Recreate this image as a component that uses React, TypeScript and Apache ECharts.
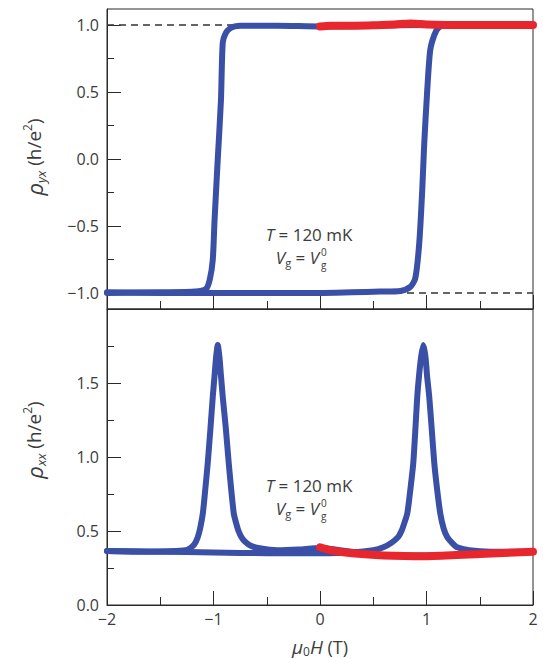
import React, { useEffect, useRef } from "react";
import * as echarts from "echarts";

// ---------- data ----------
// Top panel: rho_yx (h/e^2) vs mu0H (T)
const yxRedX = [0, 0.1, 0.3, 0.5, 0.7, 0.85, 1.0, 1.3, 1.6, 2.0];
const yxRedY = [0.99, 0.995, 0.995, 0.998, 1.005, 1.012, 1.005, 1.0, 1.0, 1.0];

const yxDownX = [2.0, 1.5, 1.0, 0.5, 0.0, -0.4, -0.745, -0.8, -0.845, -0.885, -0.913, -0.93, -0.96, -0.99, -1.007, -1.035, -1.07, -1.17, -1.5, -2.0];
const yxDownY = [1.0, 1.0, 1.0, 0.995, 0.99, 0.995, 0.995, 0.99, 0.975, 0.94, 0.87, 0.44, 0.0, -0.455, -0.754, -0.9, -0.97, -0.99, -0.995, -1.0];

const yxUpX = [-2.0, -1.5, -1.0, -0.5, 0.0, 0.3, 0.567, 0.754, 0.848, 0.895, 0.932, 0.96, 0.979, 1.007, 1.035, 1.073, 1.11, 1.175, 1.5, 2.0];
const yxUpY = [-0.995, -1.0, -1.0, -1.0, -1.0, -0.995, -0.99, -0.985, -0.955, -0.89, -0.627, -0.23, 0.12, 0.515, 0.813, 0.925, 0.978, 1.0, 1.0, 1.0];

// reference dashed levels
const yxRefLevels = [1, -1];

// Bottom panel: rho_xx (h/e^2) vs mu0H (T)
const xxRedX = [0, 0.1, 0.3, 0.6, 1.0, 1.5, 2.0];
const xxRedY = [0.39, 0.37, 0.35, 0.335, 0.33, 0.345, 0.36];

const xxDownX = [2.0, 1.5, 1.0, 0.5, 0.0, -0.2, -0.4, -0.58, -0.65, -0.7, -0.735, -0.765, -0.79, -0.81, -0.835, -0.857, -0.885, -0.913, -0.93, -0.945, -0.96, -0.975, -0.99, -1.007, -1.03, -1.054, -1.08, -1.1, -1.125, -1.147, -1.18, -1.24, -1.35, -1.7, -2.0];
const xxDownY = [0.36, 0.345, 0.335, 0.34, 0.385, 0.375, 0.37, 0.385, 0.4, 0.425, 0.455, 0.5, 0.56, 0.62, 0.79, 0.96, 1.2, 1.405, 1.55, 1.68, 1.757, 1.68, 1.55, 1.405, 1.18, 0.96, 0.76, 0.62, 0.52, 0.46, 0.41, 0.375, 0.365, 0.36, 0.365];

const xxUpX = [-2.0, -1.5, -1.0, -0.5, 0.0, 0.3, 0.5, 0.595, 0.67, 0.735, 0.765, 0.79, 0.82, 0.85, 0.876, 0.895, 0.913, 0.93, 0.95, 0.97, 0.99, 1.005, 1.026, 1.05, 1.073, 1.1, 1.129, 1.16, 1.194, 1.24, 1.288, 1.4, 1.6, 2.0];
const xxUpY = [0.365, 0.36, 0.355, 0.35, 0.35, 0.355, 0.37, 0.39, 0.42, 0.46, 0.5, 0.55, 0.62, 0.79, 0.96, 1.18, 1.405, 1.55, 1.68, 1.757, 1.68, 1.55, 1.405, 1.18, 0.96, 0.78, 0.62, 0.52, 0.46, 0.42, 0.39, 0.37, 0.36, 0.36];

// ticks
const topMajorTicks = [-1, -0.5, 0, 0.5, 1];
const topMinorTicks = [-0.75, -0.25, 0.25, 0.75];

const zip = (xs: number[], ys: number[]) => xs.map((x, i) => [x, ys[i]]);

const BLUE = "#3a4fa6";
const RED = "#e8262d";
const AX = "#2a2a2a";
const TXT = "#3c3c3c";
const FONT = "'Open Sans', 'Noto Sans', sans-serif";

const fmtNum = (v: number, digits: number) => {
  const s = Math.abs(v).toFixed(digits);
  return v < 0 ? "\u2212" + s : s;
};

function annotation(cx: number, yT: number): any[] {
  const yV = yT + 23;
  return [
    {
      type: "text",
      x: cx,
      y: yT,
      style: {
        text: "{i|T} = 120 mK",
        align: "center",
        verticalAlign: "middle",
        fill: TXT,
        fontSize: 17,
        fontFamily: FONT,
        rich: { i: { fontStyle: "italic", fontSize: 17, fontFamily: FONT, fill: TXT } },
      },
    },
    {
      type: "text",
      x: cx + 10,
      y: yV,
      style: {
        text: "{i|V}{s|g}{n| = }{i|V}",
        align: "right",
        verticalAlign: "middle",
        fill: TXT,
        fontFamily: FONT,
        rich: {
          i: { fontStyle: "italic", fontSize: 17, lineHeight: 22, fontFamily: FONT, fill: TXT },
          s: { fontSize: 11, lineHeight: 11, verticalAlign: "bottom", fontFamily: FONT, fill: TXT },
          n: { fontSize: 17, lineHeight: 22, fontFamily: FONT, fill: TXT },
        },
      },
    },
    {
      type: "text",
      x: cx + 12,
      y: yV - 5,
      style: { text: "0", align: "left", verticalAlign: "middle", fontSize: 10, fontFamily: FONT, fill: TXT },
    },
    {
      type: "text",
      x: cx + 12,
      y: yV + 8,
      style: { text: "g", align: "left", verticalAlign: "middle", fontSize: 10, fontFamily: FONT, fill: TXT },
    },
  ];
}

function yTitle(x: number, y: number, sub: string): any {
  return {
    type: "text",
    x,
    y,
    rotation: Math.PI / 2,
    style: {
      text: `{r|ρ}{s|${sub}}{n| (h/e}{p|2}{n|)}`,
      align: "center",
      verticalAlign: "middle",
      fill: TXT,
      fontFamily: FONT,
      rich: {
        r: { fontStyle: "italic", fontSize: 22, lineHeight: 26, fontFamily: FONT, fill: TXT },
        s: { fontStyle: "italic", fontSize: 13, lineHeight: 12, verticalAlign: "bottom", fontFamily: FONT, fill: TXT },
        n: { fontSize: 19, lineHeight: 26, fontFamily: FONT, fill: TXT },
        p: { fontSize: 12, lineHeight: 12, verticalAlign: "top", fontFamily: FONT, fill: TXT },
      },
    },
  };
}

export default function App() {
  const ref = useRef<HTMLDivElement>(null);

  useEffect(() => {
    document.body.style.margin = "0";
    if (!ref.current) return;
    const chart = echarts.init(ref.current, undefined, { renderer: "svg" });

    const gridL = 107;
    const gridW = 426;

    const xCommon = {
      type: "value",
      min: -2,
      max: 2,
      interval: 1,
      splitLine: { show: false },
      axisLine: { show: true, onZero: false, lineStyle: { color: AX, width: 1 } },
      axisTick: { show: true, inside: true, length: 14, lineStyle: { color: AX, width: 1 } },
      minorTick: { show: true, splitNumber: 2, length: 8, lineStyle: { color: AX, width: 1 } },
    };

    const option: any = {
      animation: false,
      backgroundColor: "#ffffff",
      grid: [
        { left: gridL, top: 9, width: gridW, height: 300, show: true, borderColor: AX, borderWidth: 1, backgroundColor: "transparent" },
        { left: gridL, top: 309, width: gridW, height: 296, show: true, borderColor: AX, borderWidth: 1, backgroundColor: "transparent" },
      ],
      xAxis: [
        { ...xCommon, gridIndex: 0, position: "bottom", axisLabel: { show: false } },
        {
          ...xCommon,
          gridIndex: 1,
          position: "bottom",
          axisLabel: {
            show: true,
            margin: 6,
            color: TXT,
            fontSize: 16,
            fontFamily: FONT,
            formatter: (v: number) => (v < 0 ? "\u2212" + Math.abs(v) : String(v)),
          },
        },
      ],
      yAxis: [
        {
          type: "value",
          gridIndex: 0,
          position: "left",
          min: -1.12,
          max: 1.12,
          splitLine: { show: false },
          axisLine: { show: true, onZero: false, lineStyle: { color: AX, width: 1 } },
          axisTick: { show: true, inside: true, length: 14, customValues: topMajorTicks, lineStyle: { color: AX, width: 1 } },
          axisLabel: {
            show: true,
            customValues: topMajorTicks,
            margin: 8,
            color: TXT,
            fontSize: 16,
            fontFamily: FONT,
            formatter: (v: number) => fmtNum(v, 1),
          },
        },
        {
          type: "value",
          gridIndex: 0,
          position: "left",
          min: -1.12,
          max: 1.12,
          splitLine: { show: false },
          axisLine: { show: false, onZero: false },
          axisTick: { show: true, inside: true, length: 7, customValues: topMinorTicks, lineStyle: { color: AX, width: 1 } },
          axisLabel: { show: false },
        },
        {
          type: "value",
          gridIndex: 1,
          position: "left",
          min: 0,
          max: 2,
          interval: 0.5,
          splitLine: { show: false },
          axisLine: { show: true, onZero: false, lineStyle: { color: AX, width: 1 } },
          axisTick: { show: true, inside: true, length: 14, lineStyle: { color: AX, width: 1 } },
          minorTick: { show: true, splitNumber: 2, length: 7, lineStyle: { color: AX, width: 1 } },
          axisLabel: {
            show: true,
            margin: 8,
            color: TXT,
            fontSize: 16,
            fontFamily: FONT,
            formatter: (v: number) => (v >= 2 ? "" : fmtNum(v, 1)),
          },
        },
      ],
      series: [
        ...yxRefLevels.map((lv) => ({
          type: "line",
          xAxisIndex: 0,
          yAxisIndex: 0,
          data: [[-2, lv], [2, lv]],
          symbol: "none",
          silent: true,
          lineStyle: { color: "#333", width: 1.4, type: [7, 5] },
          z: 1,
        })),
        { type: "line", xAxisIndex: 0, yAxisIndex: 0, data: zip(yxDownX, yxDownY), symbol: "none", smooth: 0.25, lineStyle: { color: BLUE, width: 6, cap: "round", join: "round" }, z: 2 },
        { type: "line", xAxisIndex: 0, yAxisIndex: 0, data: zip(yxUpX, yxUpY), symbol: "none", smooth: 0.25, lineStyle: { color: BLUE, width: 6, cap: "round", join: "round" }, z: 2 },
        { type: "line", xAxisIndex: 0, yAxisIndex: 0, data: zip(yxRedX, yxRedY), symbol: "none", smooth: 0.3, lineStyle: { color: RED, width: 8, cap: "round", join: "round" }, z: 3 },
        { type: "line", xAxisIndex: 1, yAxisIndex: 2, data: zip(xxDownX, xxDownY), symbol: "none", smooth: 0.2, lineStyle: { color: BLUE, width: 6, cap: "round", join: "round" }, z: 2 },
        { type: "line", xAxisIndex: 1, yAxisIndex: 2, data: zip(xxUpX, xxUpY), symbol: "none", smooth: 0.2, lineStyle: { color: BLUE, width: 6, cap: "round", join: "round" }, z: 2 },
        { type: "line", xAxisIndex: 1, yAxisIndex: 2, data: zip(xxRedX, xxRedY), symbol: "none", smooth: 0.3, lineStyle: { color: RED, width: 8, cap: "round", join: "round" }, z: 3 },
      ],
      graphic: [
        ...annotation(309, 234),
        ...annotation(309, 485),
        yTitle(34, 157, "yx"),
        yTitle(34, 440, "xx"),
        {
          type: "text",
          x: 320,
          y: 647,
          style: {
            text: "{i|μ}{s|0}{i|H}{n| (T)}",
            align: "center",
            verticalAlign: "middle",
            fill: TXT,
            fontFamily: FONT,
            rich: {
              i: { fontStyle: "italic", fontSize: 19, lineHeight: 20, fontFamily: FONT, fill: TXT },
              s: { fontSize: 12, lineHeight: 10, verticalAlign: "bottom", fontFamily: FONT, fill: TXT },
              n: { fontSize: 18, lineHeight: 20, fontFamily: FONT, fill: TXT },
            },
          },
        },
      ],
    };

    chart.setOption(option);
    return () => chart.dispose();
  }, []);

  return <div ref={ref} style={{ width: 543, height: 659 }} />;
}
